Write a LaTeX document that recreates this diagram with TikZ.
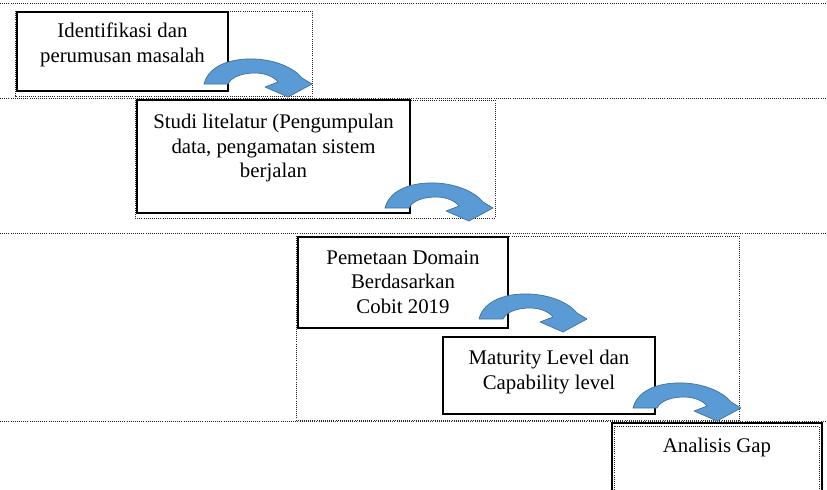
\documentclass[tikz,border=0pt]{standalone}
\usepackage{fontspec}
\setmainfont{Liberation Serif}
\usetikzlibrary{positioning}
\definecolor{arrowblue}{HTML}{5B9BD5}
\definecolor{arrowedge}{HTML}{41719C}
\tikzset{
  stepbox/.style={draw, line width=1.4pt, inner sep=0pt},
  boxtext/.style={align=center, inner sep=0pt, font=\fontsize{14.8}{17.4}\selectfont},
  groupline/.style={densely dotted, line width=0.5pt, black!85},
  curvearrow/.pic={
    \draw[line width=0.5pt, draw=arrowedge, fill=arrowblue, line join=round]
      (0,0) -- (24,0) .. controls (28,-8) and (40,-11) .. (51,-11)
      .. controls (62,-11) and (70,-7) .. (74,-2)
      -- (61,3) -- (84,13) -- (108,0) -- (98,-6)
      .. controls (90,-16) and (72,-24) .. (51,-25)
      .. controls (30,-26) and (5,-20) .. (0,0) -- cycle;
  }
}
\begin{document}
\begin{tikzpicture}[x=0.025cm, y=-0.025cm]
            \useasboundingbox (0,0) rectangle (827,489);
            \clip (0,0) rectangle (827,489);

            % Drawing separator lines
            \draw [groupline] (0,3) -- (827,3);%
            \draw [groupline] (0,98) -- (827,98);%
            \draw [groupline] (0,233) -- (827,233);%
            \draw [groupline] (0,421) -- (827,421);%

            % Drawing group frames
            \draw [groupline] (15,11) rectangle (312,96);%
            \draw [groupline] (135,100) rectangle (495,218);%
            \draw [groupline] (296,236) rectangle (739,420);%
            \draw [groupline] (614,426) rectangle (819,495);%

            % Step 1
            \node [stepbox, minimum width=5.275cm, minimum height=1.975cm] (identifikasi) at (122.5,51.5) {};%
            \node [boxtext, below=0.3cm of identifikasi.north] (identifikasi text) {Identifikasi dan\\perumusan masalah};%

            % Step 2
            \node [stepbox, minimum width=6.825cm, minimum height=2.825cm] (studi) at (273.5,156.5) {};%
            \node [boxtext, below=0.37cm of studi.north] (studi text) {Studi litelatur (Pengumpulan\\data, pengamatan sistem\\berjalan};%

            % Step 3
            \node [stepbox, minimum width=5.25cm, minimum height=2.275cm] (pemetaan) at (403,282.5) {};%
            \node [boxtext, below=0.35cm of pemetaan.north] (pemetaan text) {Pemetaan Domain\\Berdasarkan\\Cobit 2019};%

            % Step 4
            \node [stepbox, minimum width=5.3cm, minimum height=1.925cm] (maturity) at (549,375.5) {};%
            \node [boxtext, below=0.35cm of maturity.north] (maturity text) {Maturity Level dan\\Capability level};%

            % Step 5
            \node [stepbox, minimum width=5.25cm, minimum height=1.925cm] (gap) at (717,461.5) {};%
            \node [boxtext, below=0.4cm of gap.north] (gap text) {Analisis Gap};%

            % Curved arrows between steps
            \pic at (204,84) {curvearrow};%
            \pic at (385,208) {curvearrow};%
            \pic at (479,319) {curvearrow};%
            \pic at (633,408) {curvearrow};%
\end{tikzpicture}
\end{document}
